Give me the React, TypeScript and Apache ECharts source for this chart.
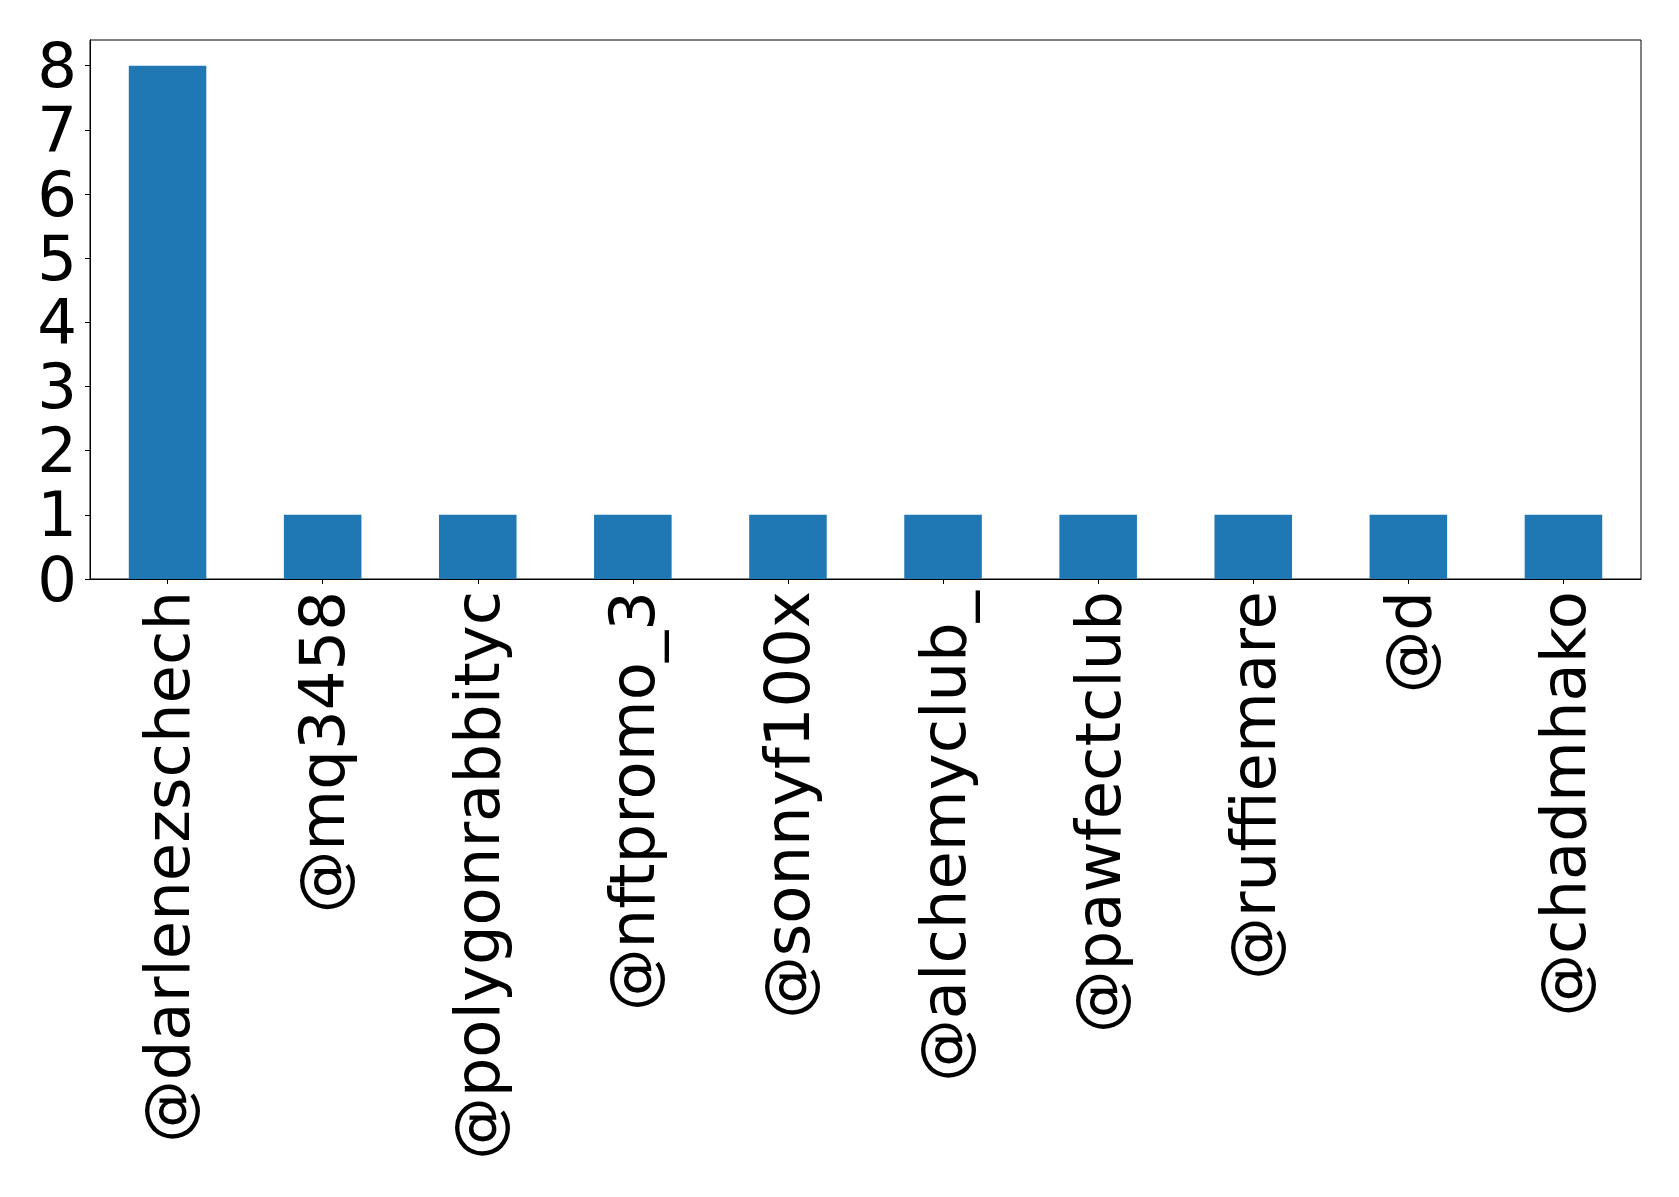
import React, { useEffect, useRef } from "react";
import * as echarts from "echarts";

const categories = [
  "@darlenezschech",
  "@mq3458",
  "@polygonrabbityc",
  "@nftpromo_3",
  "@sonnyf100x",
  "@alchemyclub_",
  "@pawfectclub",
  "@ruffiemare",
  "@d",
  "@chadmhako",
];
const counts = [8, 1, 1, 1, 1, 1, 1, 1, 1, 1];
const yTicks = [0, 1, 2, 3, 4, 5, 6, 7, 8];

const FONT = "DejaVu Sans";
const FONT_SIZE = 62.5;

export default function App() {
  const ref = useRef<HTMLDivElement>(null);

  useEffect(() => {
    if (!ref.current) return;
    const chart = echarts.init(ref.current, null, { renderer: "svg" });
    chart.setOption({
      animation: false,
      backgroundColor: "#ffffff",
      grid: {
        left: 90,
        top: 40,
        right: 38,
        bottom: 618,
        show: true,
        borderColor: "#000000",
        borderWidth: 1,
        backgroundColor: "transparent",
      },
      xAxis: {
        type: "category",
        data: categories,
        boundaryGap: true,
        axisLine: { show: true, lineStyle: { color: "#000000", width: 1 } },
        axisTick: {
          show: true,
          alignWithLabel: true,
          length: 5,
          lineStyle: { color: "#000000", width: 1 },
        },
        axisLabel: {
          rotate: 90,
          margin: 12,
          interval: 0,
          color: "#000000",
          fontSize: FONT_SIZE,
          fontFamily: FONT,
        },
        splitLine: { show: false },
      },
      yAxis: {
        type: "value",
        min: 0,
        max: 8.4,
        interval: 1,
        axisLine: { show: true, lineStyle: { color: "#000000", width: 1 } },
        axisTick: {
          show: true,
          length: 5,
          customValues: yTicks,
          lineStyle: { color: "#000000", width: 1 },
        },
        axisLabel: {
          margin: 13,
          color: "#000000",
          fontSize: FONT_SIZE,
          fontFamily: FONT,
          customValues: yTicks,
        },
        splitLine: { show: false },
      },
      series: [
        {
          type: "bar",
          data: counts,
          barWidth: "50%",
          itemStyle: { color: "#1f77b4" },
        },
      ],
    });
    return () => chart.dispose();
  }, []);

  return (
    <div
      ref={ref}
      style={{ position: "absolute", left: 0, top: 0, width: 1679, height: 1197 }}
    />
  );
}
